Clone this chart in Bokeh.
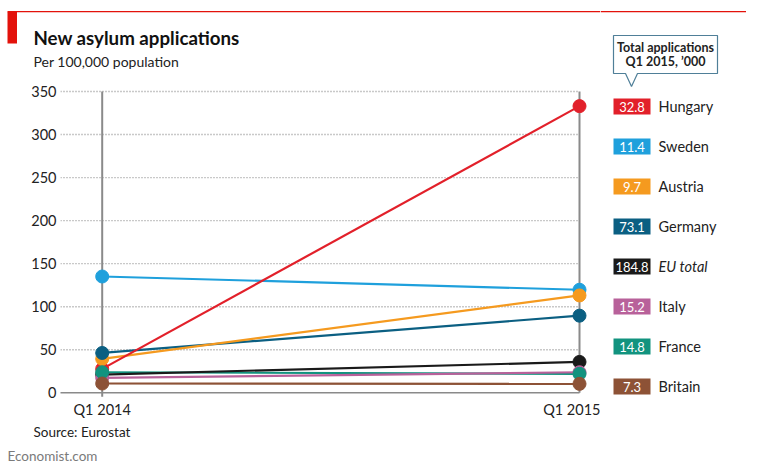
from bokeh.plotting import figure
from bokeh.layouts import row, column
from bokeh.models import Range1d, FixedTicker, ColumnDataSource
from bokeh.core.properties import value
from bokeh.embed import file_html
from bokeh.resources import INLINE

# ---- data ----
countries = ["Hungary", "Sweden", "Austria", "Germany", "EU total", "Italy", "France", "Britain"]
totals_q1_2015 = ["32.8", "11.4", "9.7", "73.1", "184.8", "15.2", "14.8", "7.3"]
q1_2014 = [27.8, 135.1, 39.4, 46.3, 21.2, 17.4, 23.9, 10.8]
q1_2015 = [333.0, 119.7, 113.1, 89.6, 35.9, 23.9, 22.0, 10.4]
colors = ["#e2202a", "#1fa0dc", "#f59a1f", "#0b5f82", "#1a1a1a", "#b8619a", "#12937f", "#8d5236"]
periods = ["Q1 2014", "Q1 2015"]
period_x = [0, 1]
y_ticks = [0, 50, 100, 150, 200, 250, 300, 350]

FONT = "Lato"
RED = "#e3120b"
TXT = "#222222"

# ---- layout geometry (page pixels) ----
LEFT_W, RIGHT_W = 600, 146
HEAD_H, MAIN_H, FOOT_H = 80, 340, 46
TOTAL_H = HEAD_H + MAIN_H + FOOT_H

X0P, X1P = 101.7, 579.0        # page x of the two periods
Y0P, YKP = 393.3, 302.3 / 350  # page y of value 0, px per unit
def X(px):
    return (px - X0P) / (X1P - X0P)
def Y(py):
    return (Y0P - py) / YKP

FL, FR, FT, FB = 60, 600, 86, 398  # main frame edges (page px)


def canvas(w, x0, y0, h):
    f = figure(width=w, height=h, output_backend="svg", toolbar_location=None,
               x_range=Range1d(x0, x0 + w), y_range=Range1d(y0 + h, y0),
               x_axis_type=None, y_axis_type=None, min_border=0, frame_align=False)
    f.title.visible = False
    f.outline_line_color = None
    f.xgrid.visible = False
    f.ygrid.visible = False
    f.background_fill_color = "white"
    f.border_fill_color = "white"
    return f


# ---- main chart ----
p = figure(width=LEFT_W, height=MAIN_H, output_backend="svg", toolbar_location=None,
           x_range=Range1d(X(FL), X(FR)), y_range=Range1d(Y(FB), Y(FT)),
           min_border_left=FL, min_border_right=LEFT_W - FR,
           min_border_top=FT - HEAD_H, min_border_bottom=HEAD_H + MAIN_H - FB,
           frame_align=False)
p.title.visible = False
p.outline_line_color = None
p.background_fill_color = "white"
p.border_fill_color = "white"
p.xgrid.visible = False
p.ygrid.visible = False

for ax in (p.xaxis[0], p.yaxis[0]):
    ax.axis_line_color = None
    ax.major_tick_line_color = None
    ax.minor_tick_line_color = None
    ax.major_tick_out = 0
    ax.major_tick_in = 0
    ax.minor_tick_out = 0
    ax.minor_tick_in = 0
    ax.major_label_text_font = FONT
    ax.major_label_text_font_size = "14.5px"
    ax.major_label_text_color = TXT

p.yaxis.ticker = FixedTicker(ticks=y_ticks)
p.yaxis.major_label_standoff = 4
p.xaxis.ticker = FixedTicker(ticks=period_x)
p.xaxis.major_label_overrides = {x: t for x, t in zip(period_x, periods)}
p.xaxis.major_label_standoff = 3

grid_y = [t for t in y_ticks if t > 0]
p.segment(x0=[X(FL)] * len(grid_y), y0=grid_y, x1=[period_x[-1]] * len(grid_y), y1=grid_y,
          line_color="#939393", line_width=1.4, line_dash="1 2")
p.segment(x0=[X(57)], y0=[0], x1=[period_x[-1]], y1=[0], line_color="#8a8a8a", line_width=1.5)
p.segment(x0=period_x, y0=[-4.5, 0], x1=period_x, y1=[max(y_ticks)] * 2,
          line_color="#8a8a8a", line_width=2)

# lines first (Hungary on top), then points (Britain on top)
for i in reversed(range(len(countries))):
    p.line(period_x, [q1_2014[i], q1_2015[i]], line_color=colors[i], line_width=2.2)
for i in range(len(countries)):
    p.scatter(period_x, [q1_2014[i], q1_2015[i]], size=13,
              fill_color=colors[i], line_color=colors[i])

# ---- header (title block) ----
h = canvas(LEFT_W, 0, 0, HEAD_H)
h.quad(left=[7], right=[LEFT_W], top=[10.5], bottom=[11.7], fill_color=RED, line_color=None)
h.quad(left=[7], right=[16.5], top=[11.5], bottom=[43], fill_color=RED, line_color=None)
h.text(x=[33], y=[37.5], text=["New asylum applications"], text_font=value(FONT),
       text_font_style="bold", text_font_size="18.7px", text_color="#111111",
       text_baseline="middle")
h.text(x=[33], y=[60.5], text=["Per 100,000 population"], text_font=value(FONT),
       text_font_size="14px", text_color=TXT, text_baseline="middle")

# ---- footer ----
ft = canvas(LEFT_W, 0, HEAD_H + MAIN_H, FOOT_H)
ft.text(x=[33], y=[431], text=["Source: Eurostat"], text_font=value(FONT),
        text_font_size="13.5px", text_color=TXT, text_baseline="middle")
ft.text(x=[7], y=[455], text=["Economist.com"], text_font=value(FONT),
        text_font_size="13.5px", text_color="#7a7a7a", text_baseline="middle")

# ---- right panel: callout + legend ----
r = canvas(RIGHT_W, LEFT_W, 0, TOTAL_H)
r.quad(left=[LEFT_W], right=[750], top=[10.5], bottom=[11.7], fill_color=RED, line_color=None)
cx = [613, 717, 717, 637, 631, 625, 613]
cy = [35, 35, 73, 73, 86, 73, 73]
r.patch(cx, cy, fill_color="white", line_color="#4f7f98", line_width=1.2)
r.text(x=[665, 665], y=[47, 61], text=["Total applications", "Q1 2015, \u2019000"],
       text_font=value(FONT), text_font_style="bold", text_font_size="12.5px",
       text_color=TXT, text_align="center", text_baseline="middle")

row_y = [106 + 40 * i for i in range(len(countries))]
leg = ColumnDataSource(dict(y=row_y, c=colors, tot=totals_q1_2015, name=countries,
                            style=["italic" if n == "EU total" else "normal" for n in countries]))
r.rect(x=631.5, y="y", width=37, height=16, fill_color="c", line_color=None, source=leg)
r.text(x=631.5, y="y", text="tot", text_font=value(FONT), text_font_size="13px",
       text_color="white", text_align="center", text_baseline="middle", source=leg)
r.text(x=658, y="y", text="name", text_font=value(FONT), text_font_size="14.5px",
       text_font_style="style", text_color=TXT, text_baseline="middle", source=leg)

layout = row(column(h, p, ft, spacing=0), r, spacing=0)
open("out.html", "w").write(file_html(layout, INLINE))
